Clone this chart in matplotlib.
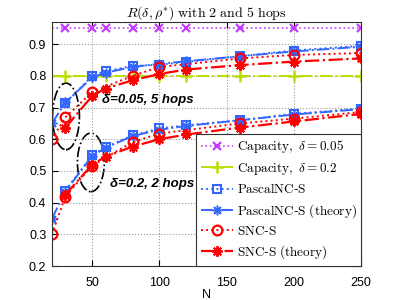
import matplotlib
matplotlib.use("Agg")
import matplotlib.pyplot as plt
from matplotlib.patches import Ellipse

# ---------------- data ----------------
N_cap = [20, 30, 50, 60, 80, 100, 120, 160, 200, 250]
cap_005 = [0.95] * len(N_cap)
cap_02 = [0.80] * len(N_cap)

N_pas_sim = [30, 50, 60, 80, 100, 120, 160, 200, 250]
pas_sim_5hop = [0.713, 0.800, 0.815, 0.831, 0.835, 0.844, 0.862, 0.880, 0.895]
pas_sim_2hop = [0.438, 0.549, 0.575, 0.612, 0.634, 0.644, 0.660, 0.680, 0.697]

N_pas_th = [20, 30, 50, 60, 80, 100, 120, 160, 200, 250]
pas_th_5hop = [0.650, 0.716, 0.795, 0.810, 0.828, 0.838, 0.846, 0.862, 0.877, 0.892]
pas_th_2hop = [0.349, 0.435, 0.548, 0.573, 0.610, 0.630, 0.642, 0.660, 0.678, 0.695]

N_snc_sim = [20, 30, 50, 80, 100, 160, 200, 250]
snc_sim_5hop = [0.600, 0.669, 0.749, 0.800, 0.828, 0.855, 0.866, 0.872]
snc_sim_2hop = [0.300, 0.419, 0.517, 0.591, 0.618, 0.650, 0.665, 0.686]

N_snc_th = [30, 50, 60, 80, 100, 120, 160, 200, 250]
snc_th_5hop = [0.636, 0.737, 0.760, 0.786, 0.806, 0.820, 0.834, 0.845, 0.855]
snc_th_2hop = [0.425, 0.520, 0.545, 0.577, 0.600, 0.615, 0.637, 0.656, 0.680]

xticks = [50, 100, 150, 200, 250]
yticks = [0.2, 0.3, 0.4, 0.5, 0.6, 0.7, 0.8, 0.9]

# ---------------- style ----------------
plt.rcParams['mathtext.fontset'] = 'cm'
plt.rcParams['font.family'] = ['Liberation Sans', 'DejaVu Sans']

purple = '#C43CFF'
green = '#BCDD00'
blue = '#3366FF'
red = '#FF0000'
ast = (8, 2, 0)

fig = plt.figure(figsize=(3.99, 3.0), dpi=100)
ax = fig.add_axes([0.130, 0.1133, 0.775, 0.8134])

ax.plot(N_cap, cap_005, linestyle=':', color=purple, lw=1.2, marker='x',
        ms=6, mew=1.6, markevery=slice(1, None), label=r'$\mathrm{Capacity},\ \delta = 0.05$')
ax.plot(N_cap, cap_02, linestyle='-.', color=green, lw=1.4, marker='+',
        ms=8, mew=1.8, markevery=slice(1, None), label=r'$\mathrm{Capacity},\ \delta = 0.2$')

for i, (ps, pt, ss, st) in enumerate([(pas_sim_5hop, pas_th_5hop, snc_sim_5hop, snc_th_5hop),
                                      (pas_sim_2hop, pas_th_2hop, snc_sim_2hop, snc_th_2hop)]):
    ax.plot(N_pas_sim, ps, linestyle=':', color=blue, lw=1.4, marker='s', ms=5.5,
            mfc='none', mew=1.5, label=r'$\mathrm{PascalNC}$-$\mathrm{S}$' if i == 0 else None)
    ax.plot(N_pas_th, pt, linestyle='-.', color=blue, lw=1.4, marker=ast, ms=7,
            mew=1.1, label=r'$\mathrm{PascalNC}$-$\mathrm{S\ (theory)}$' if i == 0 else None)
    ax.plot(N_snc_sim, ss, linestyle=':', color=red, lw=1.4, marker='o', ms=7,
            mfc='none', mew=1.6, label=r'$\mathrm{SNC}$-$\mathrm{S}$' if i == 0 else None)
    ax.plot(N_snc_th, st, linestyle='-.', color=red, lw=1.6, marker=ast, ms=7.5,
            mew=1.4, label=r'$\mathrm{SNC}$-$\mathrm{S\ (theory)}$' if i == 0 else None)

ax.set_xlim(20, 250)
ax.set_ylim(0.2, 0.97)
ax.set_xticks(xticks)
ax.set_yticks(yticks)
ax.set_yticklabels(['%.1f' % v for v in yticks])
ax.tick_params(direction='in', labelsize=9, length=4, pad=8, top=True, right=True)
ax.tick_params(axis='y', pad=4)
ax.grid(True, linestyle=':', color='#999999', lw=0.8)
for s in ax.spines.values():
    s.set_color('#333333')
    s.set_linewidth(0.8)

ax.set_xlabel('N', fontsize=9, labelpad=0)
ax.set_title(r'$R(\delta, \rho^{*})\ \mathrm{with\ 2\ and\ 5\ hops}$', fontsize=10, pad=4)

# ellipses and annotations
ax.add_patch(Ellipse((30.5, 0.672), 20, 0.21, fill=False, ec='black', ls='-.', lw=1.2))
ax.add_patch(Ellipse((49.0, 0.527), 20, 0.185, fill=False, ec='black', ls='-.', lw=1.2))
ax.text(57.3, 0.723, 'δ=0.05, 5 hops', fontsize=9.5, fontweight='bold', fontstyle='italic',
        va='center', ha='left')
ax.text(63.3, 0.46, 'δ=0.2, 2 hops', fontsize=9.5, fontweight='bold', fontstyle='italic',
        va='center', ha='left')

leg = ax.legend(loc='lower right', fontsize=9.5, borderaxespad=0, fancybox=False,
                framealpha=1, edgecolor='#333333', handlelength=2.4, handletextpad=0.3,
                labelspacing=0.42, borderpad=0.35)
leg.get_frame().set_linewidth(0.8)

fig.savefig('out.png', dpi=100)
